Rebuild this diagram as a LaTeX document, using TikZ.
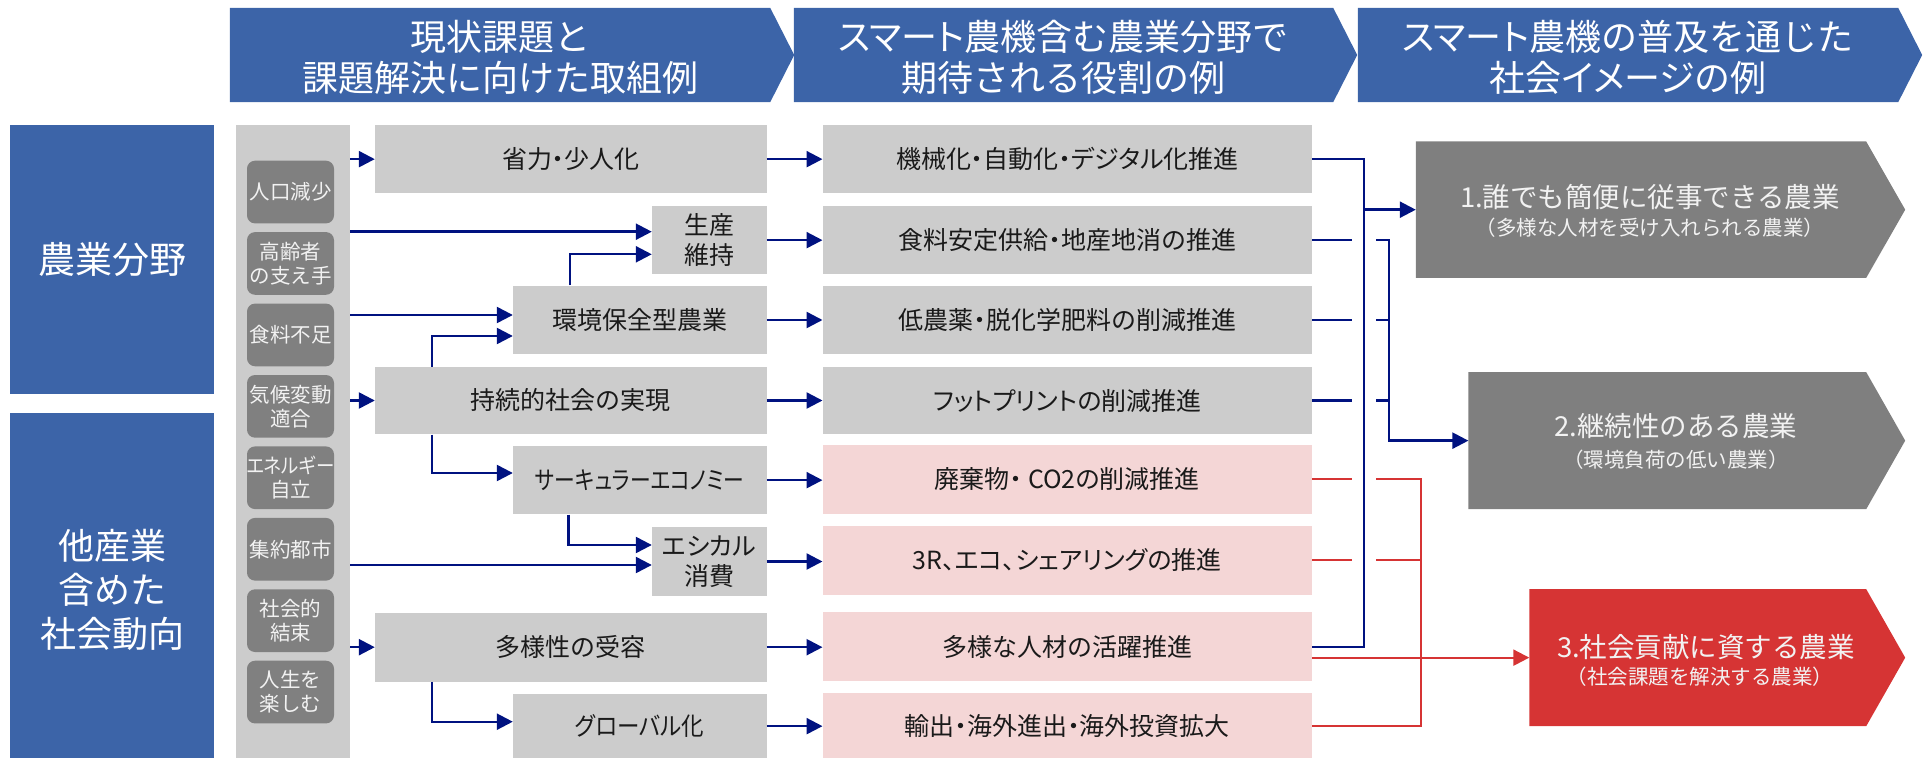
\documentclass[tikz,border=0pt]{standalone}
\usepackage{fontspec}
\usepackage{graphicx}
\setmainfont{Noto Sans CJK JP}
\newfontfamily\pfont{Noto Sans CJK JP}[RawFeature=+palt]
\newcommand\nk{{\pfont ・}}
\usetikzlibrary{arrows.meta,fit}
\definecolor{hdrblue}{RGB}{60,100,168}
\definecolor{boxgray}{RGB}{204,204,204}
\definecolor{smallgray}{RGB}{128,128,128}
\definecolor{txtlight}{RGB}{242,242,242}
\definecolor{boxpink}{RGB}{244,214,214}
\definecolor{lnblue}{RGB}{0,18,128}
\definecolor{redl}{RGB}{214,52,52}
\definecolor{midgray}{RGB}{127,127,127}
\definecolor{txtdark}{RGB}{26,26,26}
\begin{document}
\begin{tikzpicture}[x=1pt,y=-1pt,
  gb/.style={fill=boxgray, inner sep=0pt, text=txtdark, font=\fontsize{25}{30}\selectfont, align=center},
  pk/.style={gb, fill=boxpink},
  sb/.style={fill=smallgray, rounded corners=8pt, inner sep=0pt},
  sbt/.style={text=txtlight, align=center, inner sep=0pt, font=\fontsize{20.5}{24}\selectfont},
  bb/.style={fill=hdrblue, inner sep=0pt},
  hdrtxt/.style={text=white, align=center, inner sep=0pt, font=\fontsize{36}{41}\selectfont},
  rtxt/.style={text=txtlight, inner sep=0pt, font=\fontsize{27.5}{30}\selectfont},
  rsub/.style={text=txtlight, inner sep=0pt, font=\fontsize{20.5}{24}\selectfont},
  con/.style={draw=lnblue, line width=2.4pt, -{Triangle[length=16pt,width=16pt]}},
  ln/.style={draw=lnblue, line width=2.4pt},
  rln/.style={draw=redl, line width=2.2pt},
  rcon/.style={draw=redl, line width=2.2pt, -{Triangle[length=16pt,width=16pt]}},
  shape box/.style={inner sep=0pt}
]
\useasboundingbox (0,0) rectangle (1925,759);

% ---------------- header chevrons ----------------
\node[shape box, fit={(230,8)(770,102)}] (h1) {};
\node[shape box, fit={(794,8)(1333,102)}] (h2) {};
\node[shape box, fit={(1358,8)(1898,102)}] (h3) {};
\foreach \h in {h1,h2,h3}{
  \fill[hdrblue] (\h.north west) -- (\h.north east) -- ([xshift=24pt]\h.east) -- (\h.south east) -- (\h.south west) -- cycle;
}
\node[hdrtxt] (h1t) at (500,57) {現状課題と\\課題解決に向けた取組例};
\node[hdrtxt] (h2t) at (1063.5,57) {{\pfont スマート}農機含む農業分野で\\期待される役割の例};
\node[hdrtxt] (h3t) at (1628,57) {{\pfont スマート}農機の普及を通じた\\社会{\pfont イメージ}の例};

% ---------------- left blue blocks ----------------
\node[bb, fit={(10,125)(214,394)}] (L1) {};
\node[text=white, font=\fontsize{37}{44}\selectfont] (L1t) at (L1.center) {農業分野};
\node[bb, fit={(10,413)(214,758)}] (L2) {};
\node[text=white, align=center, font=\fontsize{36}{44}\selectfont] (L2t) at ([yshift=-4pt]L2.center) {他産業\\含めた\\社会動向};

% ---------------- gray column with small boxes ----------------
\node[fill=boxgray, inner sep=0pt, fit={(236,125)(350,758)}] (col) {};
\node[sb, fit={(247,160.7)(334,223.4)}] (s1) {};
\node[sb, fit={(247,232.1)(334,294.8)}] (s2) {};
\node[sb, fit={(247,303.6)(334,366.3)}] (s3) {};
\node[sb, fit={(247,375.0)(334,437.7)}] (s4) {};
\node[sb, fit={(247,446.4)(334,509.1)}] (s5) {};
\node[sb, fit={(247,517.9)(334,580.6)}] (s6) {};
\node[sb, fit={(247,589.3)(334,652.0)}] (s7) {};
\node[sb, fit={(247,660.7)(334,723.4)}] (s8) {};
\node[sbt] (s1t) at (s1.center) {人口減少};
\node[sbt] (s2t) at (s2.center) {高齢者\\の支え手};
\node[sbt] (s3t) at (s3.center) {食料不足};
\node[sbt] (s4t) at (s4.center) {気候変動\\適合};
\node[sbt] (s5t) at (s5.center) {\scalebox{0.9}[1]{\pfont エネルギー}\\自立};
\node[sbt] (s6t) at (s6.center) {集約都市};
\node[sbt] (s7t) at (s7.center) {社会的\\結束};
\node[sbt] (s8t) at (s8.center) {人生を\\楽しむ};

% ---------------- issue boxes ----------------
\node[gb, fit={(375,125)(766.5,193.3)}] (a1) {};
\node[gb, fit={(652,206)(766.5,274.3)}] (c1) {};
\node[gb, fit={(513,285.7)(766.5,354.3)}] (b1) {};
\node[gb, fit={(375,366.7)(766.5,434.3)}] (a2) {};
\node[gb, fit={(513,446)(766.5,514.3)}] (b2) {};
\node[gb, fit={(652,527.3)(766.5,595.7)}] (c2) {};
\node[gb, fit={(375,612.7)(766.5,681.7)}] (a3) {};
\node[gb, fit={(513,694.3)(766.5,758)}] (b3) {};
\node[gb, fill=none] (a1t) at (a1.center) {省力\nk 少人化};
\node[gb, fill=none] (c1t) at (c1.center) {生産\\維持};
\node[gb, fill=none] (b1t) at (b1.center) {環境保全型農業};
\node[gb, fill=none] (a2t) at (a2.center) {持続的社会の実現};
\node[gb, fill=none] (b2t) at (b2.center) {\scalebox{0.83}[1]{\pfont サーキュラーエコノミー}};
\node[gb, fill=none] (c2t) at (c2.center) {\pfont エシカル\\消費};
\node[gb, fill=none] (a3t) at (a3.center) {多様性の受容};
\node[gb, fill=none] (b3t) at (b3.center) {\scalebox{0.9}[1]{\pfont グローバル化}};

% ---------------- role boxes ----------------
\node[gb, fit={(822.7,125)(1312,193.3)}] (m1) {};
\node[gb, fit={(822.7,206)(1312,274.3)}] (m2) {};
\node[gb, fit={(822.7,285.7)(1312,354.3)}] (m3) {};
\node[gb, fit={(822.7,366.7)(1312,434.3)}] (m4) {};
\node[pk, fit={(822.7,445)(1312,513.7)}] (m5) {};
\node[pk, fit={(822.7,526)(1312,594.7)}] (m6) {};
\node[pk, fit={(822.7,612.3)(1312,680.7)}] (m7) {};
\node[pk, fit={(822.7,693.3)(1312,758)}] (m8) {};
\node[gb, fill=none] (m1t) at (m1.center) {機械化\nk 自動化\nk{\pfont デジタル}化推進};
\node[gb, fill=none] (m2t) at (m2.center) {食料安定供給\nk 地産地消の推進};
\node[gb, fill=none] (m3t) at (m3.center) {低農薬\nk 脱化学肥料の削減推進};
\node[gb, fill=none] (m4t) at (m4.center) {\pfont フットプリントの削減推進};
\node[gb, fill=none] (m5t) at (m5.center) {\pfont 廃棄物・ CO2の削減推進};
\node[gb, fill=none] (m6t) at (m6.center) {\pfont 3R、エコ、シェアリングの推進};
\node[gb, fill=none] (m7t) at (m7.center) {多様な人材の活躍推進};
\node[gb, fill=none] (m8t) at (m8.center) {輸出\nk 海外進出\nk 海外投資拡大};

% ---------------- result chevrons ----------------
\node[shape box, fit={(1416,141.7)(1866,277.7)}] (r1) {};
\node[shape box, fit={(1468.6,372.3)(1866,509)}] (r2) {};
\node[shape box, fit={(1529.5,589.3)(1866,726)}] (r3) {};
\fill[midgray] (r1.north west) -- (r1.north east) -- ([xshift=39pt]r1.east) -- (r1.south east) -- (r1.south west) -- cycle;
\fill[midgray] (r2.north west) -- (r2.north east) -- ([xshift=39pt]r2.east) -- (r2.south east) -- (r2.south west) -- cycle;
\fill[redl] (r3.north west) -- (r3.north east) -- ([xshift=39pt]r3.east) -- (r3.south east) -- (r3.south west) -- cycle;
\node[rtxt] (r1a) at (1650,196.7) {1.誰でも簡便に従事できる農業};
\node[rsub] (r1b) at (1650,227.3) {（多様な人材を受け入れられる農業）};
\node[rtxt] (r2a) at (1676,426) {2.継続性のある農業};
\node[rsub] (r2b) at (1676,460) {（環境負荷の低い農業）};
\node[rtxt] (r3a) at (1706,646.7) {3.社会貢献に資する農業};
\node[rsub] (r3b) at (1700,676.7) {（社会課題を解決する農業）};

% ---------------- left connectors ----------------
\draw[con] (col.east |- a1.west) -- (a1.west);
\draw[con] (col.east |- 0,231.7) -- (c1.west |- 0,231.7);
\draw[con] (b1.north -| 570,0) |- (c1.west |- 0,254.3);
\draw[con] (col.east |- 0,315) -- (b1.west |- 0,315);
\draw[con] (a2.north -| 431.7,0) |- (b1.west |- 0,336);
\draw[con] (col.east |- a2.west) -- (a2.west);
\draw[con] (a2.south -| 431.7,0) |- (b2.west |- 0,473);
\draw[con] (b2.south -| 568.3,0) |- (c2.west |- 0,545);
\draw[con] (col.east |- 0,565) -- (c2.west |- 0,565);
\draw[con] (col.east |- a3.west) -- (a3.west);
\draw[con] (a3.south -| 431.7,0) |- (b3.west |- 0,721.7);

% issue -> role
\draw[con] (a1.east) -- (a1.east -| m1.west);
\draw[con] (c1.east) -- (c1.east -| m2.west);
\draw[con] (b1.east) -- (b1.east -| m3.west);
\draw[con] (a2.east) -- (a2.east -| m4.west);
\draw[con] (b2.east) -- (b2.east -| m5.west);
\draw[con] (c2.east) -- (c2.east -| m6.west);
\draw[con] (a3.east) -- (a3.east -| m7.west);
\draw[con] (b3.east) -- (b3.east -| m8.west);

% ---------------- right connectors ----------------
\coordinate (bx1) at (1364,0);
\coordinate (bx2) at (1389,0);
\coordinate (rx) at (1421,0);
\coordinate (gl) at (1352,0);
\coordinate (gr) at (1376,0);
\draw[ln] (m1.east) -| (bx1 |- 0,646.7) -- (m7.east |- 0,646.7);
\draw[con] (bx1 |- r1.west) -- (r1.west);
\draw[ln] (m2.east) -- (gl |- m2.east);
\draw[con] (gr |- m2.east) -| (bx2 |- r2.west) -- (r2.west);
\draw[ln] (m3.east) -- (gl |- m3.east);
\draw[ln] (gr |- m3.east) -- (bx2 |- m3.east);
\draw[ln] (m4.east) -- (gl |- m4.east);
\draw[ln] (gr |- m4.east) -- (bx2 |- m4.east);
\draw[rln] (m5.east) -- (gl |- m5.east);
\draw[rln] (gr |- m5.east) -| (rx |- m8.east) -- (m8.east);
\draw[rln] (m6.east) -- (gl |- m6.east);
\draw[rln] (gr |- m6.east) -- (rx |- m6.east);
\draw[rcon] (m7.east |- r3.west) -- (r3.west);
\end{tikzpicture}
\end{document}
